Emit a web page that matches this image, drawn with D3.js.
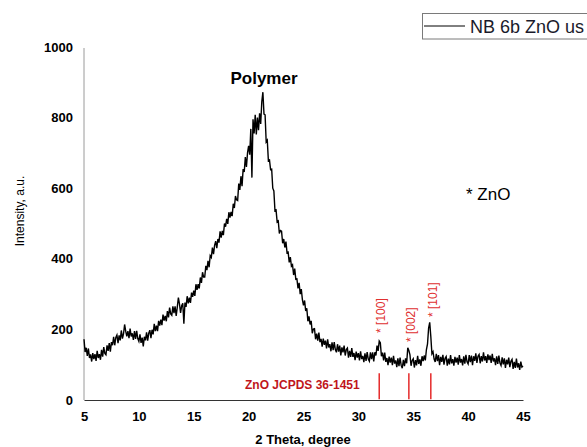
<!DOCTYPE html>
<html><head><meta charset="utf-8">
<script src="https://cdn.jsdelivr.net/npm/d3@7"></script>
<style>
body{margin:0;background:#fff;}
svg{display:block;font-family:"Liberation Sans",Arial,sans-serif;}
</style></head>
<body><svg id="c" width="587" height="447"></svg>
<script>
// 2-theta sampling: start and step (degrees)
const angleStart = 5, angleStep = 0.1;
// intensities, one row per degree (5.0 ... 45.0)
const intensity = [
172,136,148,125,146,119,129,109,133,116,
130,111,139,119,130,114,142,123,150,132,
128,155,139,161,137,164,155,179,155,177,
184,161,183,169,197,174,187,214,195,180,
195,175,202,180,189,170,195,173,196,174,
166,186,162,177,152,179,169,192,168,189,
198,175,199,186,216,195,211,195,224,211,
228,212,242,225,238,223,252,234,262,244,
240,265,246,265,238,263,290,272,247,267,
274,216,276,264,294,274,290,275,304,292,
310,295,328,312,328,316,347,332,362,348,
348,380,368,394,376,409,404,432,413,438,
450,430,456,446,478,460,479,467,500,491,
513,499,532,517,533,521,556,544,578,567,
565,613,595,634,606,654,646,688,660,700,
720,695,768,630,795,755,808,752,800,764,
812,782,845,872,810,808,731,736,678,680,
653,654,600,592,536,538,504,507,472,480,
478,444,456,432,449,417,419,390,405,379,
383,354,372,342,343,316,332,300,314,284,
268,282,252,260,223,237,214,224,189,201,
202,172,188,168,191,164,173,151,174,156,
168,146,172,149,158,138,163,141,164,143,
135,158,137,154,126,149,135,154,126,143,
147,120,139,122,147,122,133,113,137,120,
133,112,138,116,125,107,132,111,136,116,
110,135,116,135,109,135,126,154,139,167,
162,124,134,112,134,108,119,99,123,106,
120,99,125,103,112,93,118,96,120,98,
90,114,96,118,104,148,140,128,97,112,
117,92,113,98,125,102,115,97,124,110,
126,112,143,159,204,220,180,131,137,116,
108,131,110,127,99,122,108,128,100,118,
123,97,117,101,127,104,116,97,122,106,
120,100,127,106,116,98,124,103,128,108,
102,127,107,126,99,124,111,132,105,124,
129,104,124,109,135,112,124,105,129,113,
126,105,131,109,118,99,124,102,126,105,
98,121,101,118,91,114,101,120,93,110,
115,88,108,91,117,92,104,85,109,93,
96
];
const xTicks = [5,10,15,20,25,30,35,40,45];
const yTicks = [0,200,400,600,800,1000];
const refPeaks = [31.9, 34.6, 36.6];          // ZnO JCPDS 36-1451 lines
const refTop = 76;
const peakLabels = ["* [100]", "* [002]", "* [101]"];
const peakLabelBottom = [190, 164, 235];
const seriesName = "NB 6b ZnO us";

const svg = d3.select("#c");
const x = d3.scaleLinear().domain([5,45]).range([84,523]);
const y = d3.scaleLinear().domain([0,1000]).range([400,47]);

const data = intensity.map((v,i)=>({a: angleStart + i*angleStep, v}));

// y axis
const ya = svg.append("g").attr("transform","translate(84,0)")
  .call(d3.axisLeft(y).tickValues(yTicks).tickSize(0).tickPadding(11).tickFormat(d3.format("d")));
ya.select(".domain").attr("stroke","#9a9a9a").attr("d","M0,48V400");
ya.selectAll("text").attr("font-size",13).attr("font-weight","bold").attr("fill","#000")
  .attr("font-family","Liberation Sans, Arial");

// x axis
const xa = svg.append("g").attr("transform","translate(0,400)")
  .call(d3.axisBottom(x).tickValues(xTicks).tickSize(0).tickPadding(12).tickFormat(d3.format("d")));
xa.select(".domain").attr("stroke","#333");
xa.selectAll("text").attr("font-size",13).attr("font-weight","bold").attr("fill","#000")
  .attr("font-family","Liberation Sans, Arial");

// axis titles
svg.append("text").attr("x",303).attr("y",444).attr("text-anchor","middle")
  .attr("font-size",13).attr("font-weight","bold").text("2 Theta, degree");
svg.append("text").attr("transform","translate(24,211) rotate(-90)").attr("text-anchor","middle")
  .attr("font-size",12).text("Intensity, a.u.");

// curve
svg.append("path").datum(data)
  .attr("fill","none").attr("stroke","#000").attr("stroke-width",1.4)
  .attr("d", d3.line().x(d=>x(d.a)).y(d=>y(d.v)));

// reference lines
svg.selectAll(".ref").data(refPeaks).enter().append("line")
  .attr("x1",d=>x(d)).attr("x2",d=>x(d)).attr("y1",y(refTop)).attr("y2",y(2))
  .attr("stroke","#e52a2a").attr("stroke-width",1.5);
svg.append("text").attr("x",245).attr("y",389).attr("font-size",12).attr("font-weight","bold")
  .attr("fill","#c0151b").text("ZnO JCPDS 36-1451");

// peak labels
svg.selectAll(".pl").data(refPeaks).enter().append("text")
  .attr("transform",(d,i)=>`translate(${x(d)+6},${y(peakLabelBottom[i])}) rotate(-90)`)
  .attr("font-size",12).attr("fill","#e03030").text((d,i)=>peakLabels[i]);

// annotations
svg.append("text").attr("x",264).attr("y",84).attr("text-anchor","middle")
  .attr("font-size",17).attr("font-weight","bold").text("Polymer");
svg.append("text").attr("x",466).attr("y",200).attr("font-size",17).text("* ZnO");

// legend
svg.append("rect").attr("x",422.5).attr("y",13.5).attr("width",200).attr("height",25.5)
  .attr("fill","#fff").attr("stroke","#7a7a7a").attr("stroke-width",1);
svg.append("line").attr("x1",424).attr("x2",465).attr("y1",26).attr("y2",26).attr("stroke","#000");
svg.append("text").attr("x",470).attr("y",33).attr("font-size",18).attr("fill","#1a1a2a").text(seriesName);
</script></body></html>
